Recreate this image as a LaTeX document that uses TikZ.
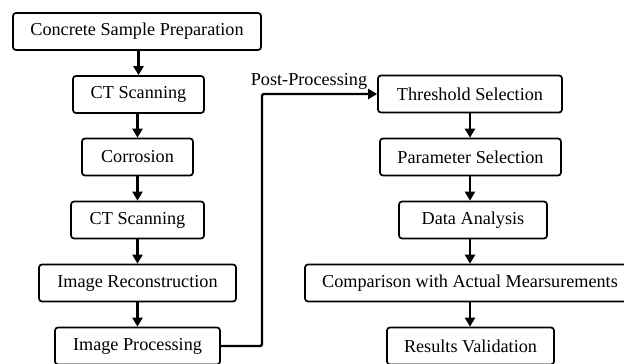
\documentclass[tikz,border=0pt]{standalone}
\usepackage{fontspec}
\setmainfont{Liberation Serif}
\usetikzlibrary{arrows.meta}
\begin{document}
\begin{tikzpicture}[x=1pt,y=-1pt,
  box/.style={draw, line width=1.7pt, rounded corners=3pt, inner sep=0pt,
    minimum height=37pt, font=\fontsize{18.2}{20}\selectfont, fill=white},
  arr/.style={line width=2.4pt, -{Triangle[length=9pt,width=10pt]}},
  lbl/.style={font=\fontsize{18.2}{20}\selectfont, inner sep=0pt}]
\useasboundingbox (0,0) rectangle (624,364);
\clip (0,0) rectangle (624,364);
% left column
\node[box, minimum width=248pt] (csp) at (137,31.5) {Concrete Sample Preparation};
\node[box, minimum width=131pt] (ct1) at (138.5,94.5) {CT Scanning};
\node[box, minimum width=111pt] (cor) at (137.5,157) {Corrosion};
\node[box, minimum width=133pt] (ct2) at (137.5,220) {CT Scanning};
\node[box, minimum width=197pt] (ir) at (137.5,283) {Image Reconstruction};
\node[box, minimum width=165pt] (ip) at (137.5,346) {Image Processing};
% right column
\node[box, minimum width=184pt] (ts) at (470,94) {Threshold Selection};
\node[box, minimum width=181pt] (ps) at (470.5,157) {Parameter Selection};
\node[box, minimum width=148pt] (da) at (473,220) {Data Analysis};
\node[box, minimum width=330pt] (cam) at (470,283) {Comparison with Actual Mearsurements};
\node[box, minimum width=167pt] (rv) at (470.5,346) {Results Validation};
% arrows
\draw[arr] (csp.south -| ct1) -- (ct1.north);
\draw[arr] (ct1.south -| cor) -- (cor.north);
\draw[arr] (cor.south) -- (ct2.north);
\draw[arr] (ct2.south) -- (ir.north);
\draw[arr] (ir.south) -- (ip.north);
\draw[arr] (ts.south) -- (ts.south |- ps.north);
\draw[arr] (ps.south -| ts) -- (ts |- da.north);
\draw[arr] (da.south -| ts) -- (ts |- cam.north);
\draw[arr] (cam.south -| ts) -- (ts |- rv.north);
\coordinate (bend) at (262,346);
\draw[arr, rounded corners=2pt] (ip.east) -- (bend) |- (ts.west);
\node[lbl, anchor=base] (pp) at (309,85) {Post-Processing};
\end{tikzpicture}
\end{document}
